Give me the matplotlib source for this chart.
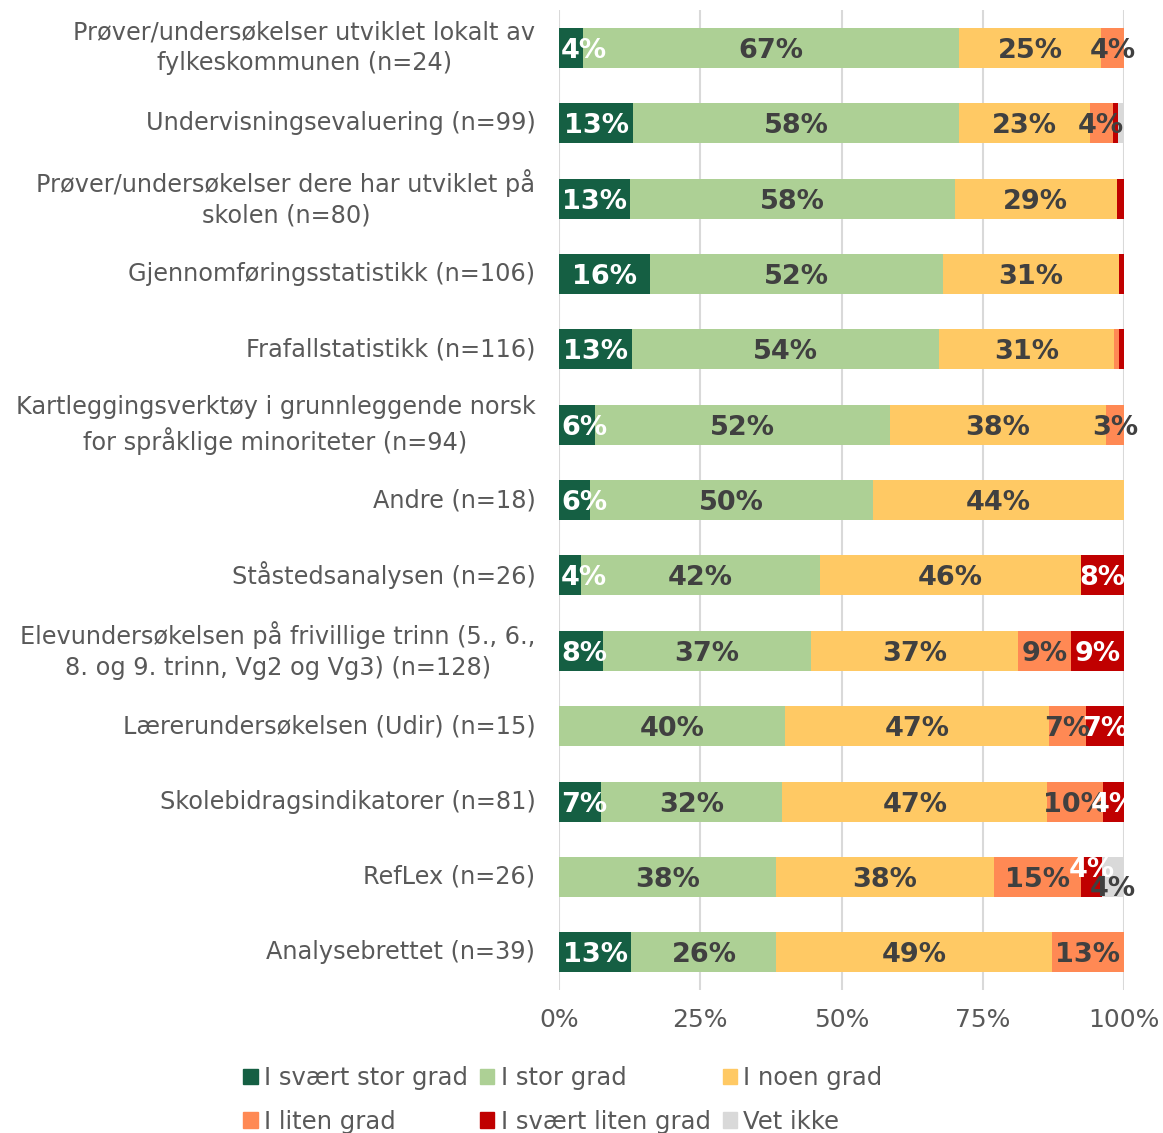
"""Stacked bar chart: how useful the schools find different survey and statistics tools."""

import math

import matplotlib.pyplot as plt
from matplotlib.patches import Patch

categories = [
    "Prøver/undersøkelser utviklet lokalt av\nfylkeskommunen (n=24)",
    "Undervisningsevaluering (n=99)",
    "Prøver/undersøkelser dere har utviklet på\nskolen (n=80)",
    "Gjennomføringsstatistikk (n=106)",
    "Frafallstatistikk (n=116)",
    "Kartleggingsverktøy i grunnleggende norsk\nfor språklige minoriteter (n=94)",
    "Andre (n=18)",
    "Ståstedsanalysen (n=26)",
    "Elevundersøkelsen på frivillige trinn (5., 6.,\n8. og 9. trinn, Vg2 og Vg3) (n=128)",
    "Lærerundersøkelsen (Udir) (n=15)",
    "Skolebidragsindikatorer (n=81)",
    "RefLex (n=26)",
    "Analysebrettet (n=39)",
]

# percent of respondents per answer
svaert_stor = [4.17, 13.13, 12.5, 16.04, 12.93, 6.38, 5.56, 3.85, 7.81, 0, 7.41, 0, 12.82]
stor = [66.67, 57.58, 57.5, 51.89, 54.31, 52.13, 50.0, 42.31, 36.72, 40.0, 32.1, 38.46, 25.64]
noen = [25.0, 23.23, 28.75, 31.13, 31.03, 38.3, 44.44, 46.15, 36.72, 46.67, 46.91, 38.46, 48.72]
liten = [4.17, 4.04, 0, 0, 0.86, 3.19, 0, 0, 9.38, 6.67, 9.88, 15.38, 12.82]
svaert_liten = [0, 1.01, 1.25, 0.94, 0.86, 0, 0, 7.69, 9.38, 6.67, 3.7, 3.85, 0]
vet_ikke = [0, 1.01, 0, 0, 0, 0, 0, 0, 0, 0, 0, 3.85, 0]

series_names = ["I svært stor grad", "I stor grad", "I noen grad",
                "I liten grad", "I svært liten grad", "Vet ikke"]
series_values = [svaert_stor, stor, noen, liten, svaert_liten, vet_ikke]
colors = ["#155F43", "#ADD095", "#FFC964", "#FF8954", "#C00000", "#D9D9D9"]
label_colors = ["white", "#404040", "#404040", "#404040", "white", "#404040"]

TEXT = "#595959"
GRID = "#D9D9D9"


def pct(v):
    # round half up, like the spreadsheet labels
    return f"{math.floor(v + 0.5)}%"


def main():
    plt.rcParams["font.family"] = ["DejaVu Sans"]
    fig = plt.figure(figsize=(11.63, 11.33), dpi=100)
    ax = fig.add_axes([0.4807, 0.1262, 0.4858, 0.8649])

    ypos = list(range(len(categories)))
    left = [0.0] * len(categories)
    labels = []
    for k, (name, vals) in enumerate(zip(series_names, series_values)):
        ax.barh(ypos, vals, left=left, height=0.53, color=colors[k], label=name, zorder=3)
        for i, v in enumerate(vals):
            if v < 2:
                continue
            dy = 0
            # two narrow neighbouring labels: push them apart vertically
            prev = series_values[k - 1][i] if k > 0 else 0
            nxt = series_values[k + 1][i] if k + 1 < len(series_values) else 0
            if v < 5 and 2 <= nxt < 5:
                dy = -0.13
            elif v < 5 and 2 <= prev < 5 and k > 0:
                dy = 0.12
            t = ax.text(left[i] + v / 2, i + dy, pct(v), ha="center", va="center_baseline",
                        fontsize=19.5, fontweight="bold", color=label_colors[k], zorder=4)
            labels.append(t)
        left = [a + b for a, b in zip(left, vals)]

    ax.set_xlim(0, 100)
    ax.set_ylim(len(categories) - 0.5, -0.5)
    ax.set_xticks([0, 25, 50, 75, 100])
    ax.set_xticklabels(["0%", "25%", "50%", "75%", "100%"])
    ax.set_yticks(ypos)
    ax.set_yticklabels(categories, multialignment="center", linespacing=1.35)
    for lbl in ax.get_yticklabels():
        lbl.set_va("center")
    ax.tick_params(axis="y", length=0, pad=17, labelsize=17.3, labelcolor=TEXT)
    ax.tick_params(axis="x", length=0, pad=13, labelsize=18, labelcolor=TEXT)
    ax.grid(axis="x", color=GRID, linewidth=1.5, zorder=0)
    for spine in ax.spines.values():
        spine.set_visible(False)

    # labels that would stick out left of the axis start at the axis instead
    fig.canvas.draw()
    renderer = fig.canvas.get_renderer()
    x_axis = ax.transData.transform((0, 0))[0]
    for t in labels:
        bb = t.get_window_extent(renderer)
        if bb.x0 < x_axis:
            x, y = t.get_position()
            t.set_position((ax.transData.inverted().transform((x_axis + 2, 0))[0], y))
            t.set_ha("left")

    handles = [Patch(color=c) for c in colors]
    order = [0, 3, 1, 4, 2, 5]
    fig.legend([handles[j] for j in order], [series_names[j] for j in order],
               loc="upper left", bbox_to_anchor=(0.209, 0.059), ncol=3, frameon=False,
               fontsize=17.5, labelcolor=TEXT, handlelength=0.6, handleheight=0.6,
               handletextpad=0.25, columnspacing=0.5, labelspacing=0.8,
               borderaxespad=0, borderpad=0)

    fig.savefig("out.png", dpi=100)


if __name__ == "__main__":
    main()
